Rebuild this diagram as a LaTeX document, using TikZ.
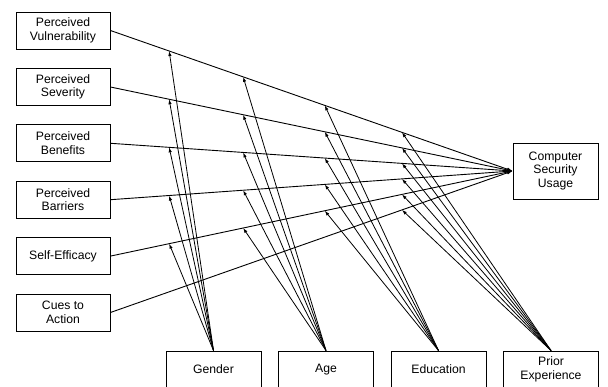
\documentclass[tikz,border=0pt]{standalone}
\usepackage{fontspec}
\setmainfont{Liberation Sans}
\usetikzlibrary{arrows.meta,calc}
\begin{document}
\begin{tikzpicture}[x=1pt,y=-1pt,
  box/.style={draw=black,line width=0.9pt,inner sep=0pt,align=center,
    font=\fontsize{12.2pt}{13.6pt}\selectfont},
  lbox/.style={box,minimum width=94pt,minimum height=37pt},
  bbox/.style={box,minimum width=95pt,minimum height=37pt},
  conn/.style={line width=0.9pt,-{Latex[length=5.5pt,width=3.6pt]}},
  mod/.style={line width=0.8pt,-{Latex[length=5pt,width=3.4pt]}}]
\useasboundingbox (0,0) rectangle (608,387);
\node[lbox] (pv) at (63,30.5) {Perceived\\Vulnerability};
\node[lbox] (ps) at (63,87) {Perceived\\Severity};
\node[lbox] (pb) at (63,143.3) {Perceived\\Benefits};
\node[lbox] (pba) at (63,199.7) {Perceived\\Barriers};
\node[lbox] (se) at (63,256.1) {Self-Efficacy};
\node[lbox] (ca) at (63,312.5) {Cues to\\Action};
\node[box,minimum width=85pt,minimum height=56pt] (csu) at (555.5,171) {Computer\\Security\\Usage};
\node[bbox] (gen) at (213.5,369.5) {Gender};
\node[bbox] (age) at (326,369.5) {Age};
\node[bbox] (edu) at (438.5,369.5) {Education};
\node[bbox] (pe) at (551,369.5) {Prior\\Experience};
\foreach \s in {pv,ps,pb,pba,se,ca}{
  \draw[conn] (\s.east) -- (csu.west);
}
\foreach \m/\t in {gen/0.146,age/0.33,edu/0.533}{
  \foreach \s in {pv,ps,pb,pba,se}{
    \coordinate (\m-\s) at ($(\s.east)!\t!(csu.west)$);
    \draw[mod] (\m.north) -- (\m-\s);
  }
}
\foreach \s in {pv,ps,pb,pba,se,ca}{
  \coordinate (pe-\s) at ($(\s.east)!0.725!(csu.west)$);
  \draw[mod] (pe.north) -- (pe-\s);
}
\end{tikzpicture}
\end{document}
